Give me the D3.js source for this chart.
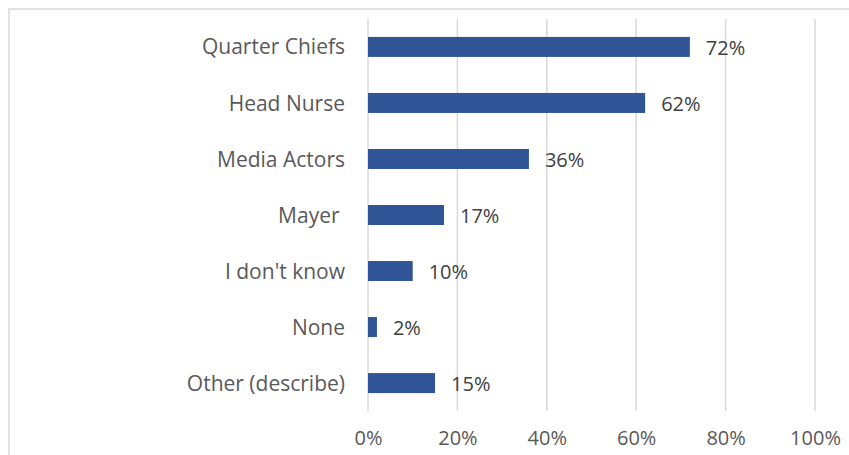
<!DOCTYPE html>
<html><head><meta charset="utf-8">
<script src="https://cdn.jsdelivr.net/npm/d3@7"></script>
<style>body{margin:0;background:#fff}svg{display:block}text{white-space:pre}</style>
</head><body>
<svg id="c" width="849" height="455"></svg>
<script>
const categories = ["Quarter Chiefs","Head Nurse","Media Actors","Mayer ","I don't know","None","Other (describe)"];
const values = [72, 62, 36, 17, 10, 2, 15];
const ticks = [0, 20, 40, 60, 80, 100];

const svg = d3.select("#c");
const font = "'Open Sans', sans-serif";
const x = d3.scaleLinear().domain([0, 100]).range([368, 815]);
const y = d3.scaleBand().domain(categories).range([19, 411]).paddingInner(0.643).paddingOuter(0.32);

// chart border
svg.append("rect").attr("x", 9).attr("y", 9).attr("width", 860).attr("height", 470)
  .attr("fill", "none").attr("stroke", "#d9d9d9").attr("stroke-width", 1.5);

// gridlines
svg.append("g").selectAll("line").data(ticks).join("line")
  .attr("x1", d => x(d)).attr("x2", d => x(d)).attr("y1", 19).attr("y2", 411)
  .attr("stroke", "#d9d9d9").attr("stroke-width", 1.5);

// bars
svg.append("g").selectAll("rect").data(values).join("rect")
  .attr("x", x(0)).attr("y", (d, i) => y(categories[i]))
  .attr("width", d => x(d) - x(0)).attr("height", y.bandwidth())
  .attr("fill", "#2f5597");

// category labels
svg.append("g").selectAll("text").data(categories).join("text")
  .attr("x", 345).attr("y", d => y(d) + y.bandwidth() / 2)
  .attr("dy", "0.36em").attr("text-anchor", "end")
  .attr("font-family", font).attr("font-size", 21).attr("fill", "#595959")
  .text(d => d);

// value labels
svg.append("g").selectAll("text").data(values).join("text")
  .attr("x", d => x(d) + 16).attr("y", (d, i) => y(categories[i]) + y.bandwidth() / 2 + 1)
  .attr("dy", "0.36em")
  .attr("font-family", font).attr("font-size", 20).attr("fill", "#404040")
  .text(d => d + "%");

// x tick labels
const axis = d3.axisBottom(x).tickValues(ticks).tickFormat(d => d + "%").tickSize(0).tickPadding(0);
const ag = svg.append("g").attr("transform", "translate(0,431)").call(axis);
ag.select(".domain").remove();
ag.selectAll("text").attr("font-family", font).attr("font-size", 20).attr("fill", "#595959");
</script>
</body></html>
